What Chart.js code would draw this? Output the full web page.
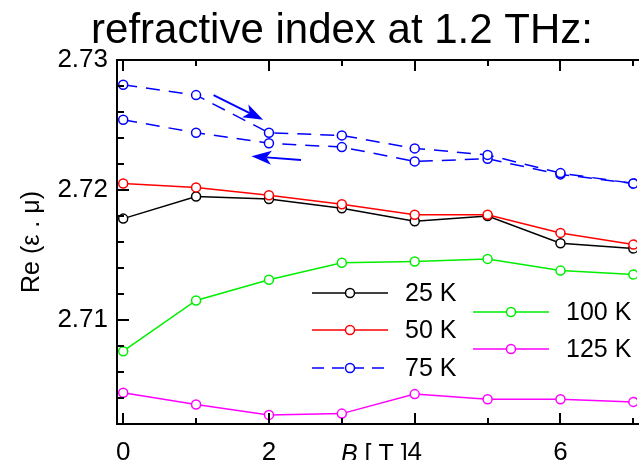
<!DOCTYPE html>
<html>
<head>
<meta charset="utf-8">
<title>refractive index at 1.2 THz</title>
<script src="https://cdn.jsdelivr.net/npm/chart.js@4.4.1/dist/chart.umd.min.js"></script>
<style>
  html, body { margin: 0; padding: 0; background: #fff; }
  canvas { display: block; }
</style>
</head>
<body>
<canvas id="chart" width="643" height="460"></canvas>
<script>
// magnetic field B [T]
const fieldB = [0, 1, 2, 3, 4, 5, 6, 7];

// Re(eps * mu) per temperature
const re25K = [2.7178, 2.7195, 2.7193, 2.7186, 2.7176, 2.7180, 2.7159, 2.7155];
const re50K = [2.7205, 2.7202, 2.7196, 2.7189, 2.7181, 2.7181, 2.7167, 2.7158];
const re75KUp = [2.7281, 2.7273, 2.7244, 2.7242, 2.7232, 2.7227, 2.7213, 2.7205];
const re75KDown = [2.7254, 2.7244, 2.7236, 2.7233, 2.7222, 2.7224, 2.7212, 2.7205];
const re100K = [2.7076, 2.7115, 2.7131, 2.7144, 2.7145, 2.7147, 2.7138, 2.7135];
const re125K = [2.7044, 2.7035, 2.7027, 2.7028, 2.7043, 2.7039, 2.7039, 2.7037];

// axis ticks
const xTickLabels = [0, 2, 4, 6];
const xMinorTicks = [1, 3, 5, 7];
const yTickLabels = [2.71, 2.72, 2.73];

// sweep direction arrows for 75 K, [start, end] in (B, Re) units
const arrowSweepUp = [[1.24, 2.7273], [1.92, 2.7254]];
const arrowSweepDown = [[2.44, 2.7223], [1.76, 2.7226]];

const FONT = "'Liberation Sans', Arial, sans-serif";
Chart.defaults.font.family = FONT;
Chart.defaults.color = '#000';

const BLUE_DASH = [14, 9];

function makeSet(label, values, color, dashed) {
  return {
    label: label,
    data: fieldB.map((b, i) => ({ x: b, y: values[i] })),
    borderColor: color,
    backgroundColor: '#fff',
    pointBackgroundColor: '#fff',
    pointBorderColor: color,
    pointRadius: 4.5,
    pointBorderWidth: 1.5,
    borderWidth: 1.5,
    borderDash: dashed ? BLUE_DASH : [],
    tension: 0,
    fill: false
  };
}

// first dataset ends up drawn on top
const datasets = [
  makeSet('50 K', re50K, '#ff0000'),
  makeSet('25 K', re25K, '#000000'),
  makeSet('75 K', re75KUp, '#0000ff', true),
  makeSet('75 K', re75KDown, '#0000ff', true),
  makeSet('100 K', re100K, '#00ee00'),
  makeSet('125 K', re125K, '#ff00ff')
];

// legend entries, two columns inside the plot
const legendItems = [
  { label: '25 K', color: '#000000', x: 312, y: 293 },
  { label: '50 K', color: '#ff0000', x: 312, y: 330 },
  { label: '75 K', color: '#0000ff', x: 312, y: 368, dashed: true },
  { label: '100 K', color: '#00ee00', x: 473, y: 312 },
  { label: '125 K', color: '#ff00ff', x: 473, y: 349 }
];

function drawArrow(ctx, x0, y0, x1, y1) {
  const ang = Math.atan2(y1 - y0, x1 - x0);
  const len = 20, half = 7, notch = 5;
  ctx.save();
  ctx.strokeStyle = '#0000ff';
  ctx.fillStyle = '#0000ff';
  ctx.lineWidth = 2;
  ctx.beginPath();
  ctx.moveTo(x0, y0);
  ctx.lineTo(x1 - Math.cos(ang) * (len - notch), y1 - Math.sin(ang) * (len - notch));
  ctx.stroke();
  ctx.translate(x1, y1);
  ctx.rotate(ang);
  ctx.beginPath();
  ctx.moveTo(0, 0);
  ctx.lineTo(-len, -half);
  ctx.lineTo(-len + notch, 0);
  ctx.lineTo(-len, half);
  ctx.closePath();
  ctx.fill();
  ctx.restore();
}

const decorations = {
  id: 'decorations',
  afterDraw(chart) {
    const ctx = chart.ctx;
    const area = chart.chartArea;
    const xs = chart.scales.x;
    const ys = chart.scales.y;

    ctx.save();
    // frame: left, bottom, top
    ctx.strokeStyle = '#000';
    ctx.lineWidth = 2;
    ctx.beginPath();
    ctx.moveTo(area.right + 2, area.top);
    ctx.lineTo(area.left, area.top);
    ctx.lineTo(area.left, area.bottom);
    ctx.lineTo(area.right + 2, area.bottom);
    ctx.stroke();

    // inward ticks
    ctx.beginPath();
    xTickLabels.concat(xMinorTicks).forEach(v => {
      const px = Math.round(xs.getPixelForValue(v));
      const len = xTickLabels.includes(v) ? 11 : 6;
      ctx.moveTo(px, area.bottom);
      ctx.lineTo(px, area.bottom - len);
      ctx.moveTo(px, area.top);
      ctx.lineTo(px, area.top + len);
    });
    for (let v = ys.min; v <= ys.max + 1e-9; v += 0.002) {
      const py = Math.round(ys.getPixelForValue(v));
      const major = yTickLabels.some(t => Math.abs(t - v) < 1e-6);
      ctx.moveTo(area.left, py);
      ctx.lineTo(area.left + (major ? 12 : 7), py);
    }
    ctx.stroke();

    // sweep arrows
    [arrowSweepUp, arrowSweepDown].forEach(a => {
      drawArrow(ctx,
        xs.getPixelForValue(a[0][0]), ys.getPixelForValue(a[0][1]),
        xs.getPixelForValue(a[1][0]), ys.getPixelForValue(a[1][1]));
    });

    // legend
    legendItems.forEach(it => {
      ctx.strokeStyle = it.color;
      ctx.lineWidth = 1.5;
      ctx.setLineDash(it.dashed ? [12, 8] : []);
      ctx.beginPath();
      ctx.moveTo(it.x, it.y);
      ctx.lineTo(it.x + 76, it.y);
      ctx.stroke();
      ctx.setLineDash([]);
      ctx.fillStyle = '#fff';
      ctx.beginPath();
      ctx.arc(it.x + 38, it.y, 4.5, 0, Math.PI * 2);
      ctx.fill();
      ctx.stroke();
      ctx.fillStyle = '#000';
      ctx.font = '25px ' + FONT;
      ctx.textAlign = 'left';
      ctx.textBaseline = 'middle';
      ctx.fillText(it.label, it.x + 93, it.y + 1);
    });

    // title
    ctx.fillStyle = '#000';
    ctx.font = '42px ' + FONT;
    ctx.textAlign = 'center';
    ctx.textBaseline = 'alphabetic';
    ctx.fillText('refractive index at 1.2 THz:', 342, 43);

    // x axis title with italic B
    ctx.textAlign = 'left';
    ctx.font = 'italic 25px ' + FONT;
    ctx.fillText('B', 341, 462);
    const bw = ctx.measureText('B').width;
    ctx.font = '25px ' + FONT;
    ctx.fillText(' [ T ]', 341 + bw, 462);
    ctx.restore();
  }
};

new Chart(document.getElementById('chart'), {
  type: 'line',
  data: { datasets: datasets },
  options: {
    responsive: false,
    animation: false,
    devicePixelRatio: 1,
    layout: { padding: { top: 60, left: 0, right: 0, bottom: 0 } },
    plugins: {
      legend: { display: false },
      title: { display: false },
      tooltip: { enabled: false }
    },
    scales: {
      x: {
        type: 'linear',
        min: -0.085,
        max: 7.05,
        grid: { display: false },
        border: { display: false },
        afterFit: s => { s.height = 36; },
        afterBuildTicks: s => { s.ticks = xTickLabels.map(v => ({ value: v })); },
        ticks: {
          font: { size: 26 },
          padding: 5,
          maxRotation: 0,
          minRotation: 0,
          autoSkip: false
        }
      },
      y: {
        min: 2.702,
        max: 2.73,
        grid: { display: false },
        border: { display: false },
        afterFit: s => { s.width = 117; },
        afterBuildTicks: s => { s.ticks = yTickLabels.map(v => ({ value: v })); },
        ticks: {
          font: { size: 26 },
          padding: 1,
          callback: v => v.toFixed(2)
        },
        title: {
          display: true,
          text: 'Re (\u03b5 . \u03bc)',
          font: { size: 25 },
          padding: { top: 17, bottom: 0 }
        }
      }
    }
  },
  plugins: [decorations]
});
</script>
</body>
</html>
